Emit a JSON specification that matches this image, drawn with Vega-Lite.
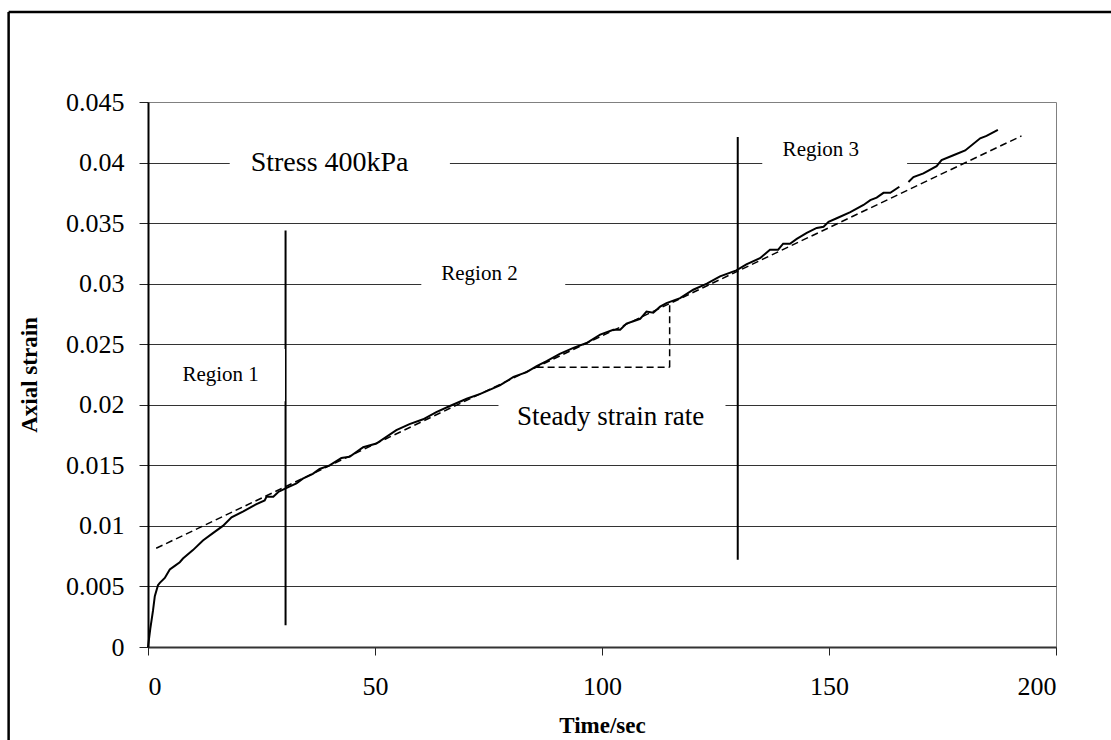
{
  "$schema": "https://vega.github.io/schema/vega-lite/v6.json",
  "autosize": {"type": "none"},
  "width": 908,
  "height": 545,
  "padding": {"left": 148, "top": 102, "right": 55, "bottom": 93},
  "background": "white",
  "config": {
    "view": {"stroke": "#808080", "strokeWidth": 1},
    "font": "'Liberation Serif', 'Times New Roman', serif",
    "axis": {
      "labelFont": "'Liberation Serif', 'Times New Roman', serif",
      "labelFontSize": 26,
      "labelColor": "black",
      "titleFont": "'Liberation Serif', 'Times New Roman', serif",
      "titleFontSize": 23,
      "titleFontWeight": "bold",
      "titleColor": "black",
      "tickColor": "#222",
      "domainColor": "#222"
    }
  },
  "datasets": {
    "strain": [
      {"t": 0, "e": 0, "seg": "a"},
      {"t": 0.5, "e": 0.0015, "seg": "a"},
      {"t": 1.1, "e": 0.0030, "seg": "a"},
      {"t": 1.5, "e": 0.0042, "seg": "a"},
      {"t": 2.2, "e": 0.0051, "seg": "a"},
      {"t": 2.6, "e": 0.0053, "seg": "a"},
      {"t": 3.7, "e": 0.0057, "seg": "a"},
      {"t": 4.8, "e": 0.0064, "seg": "a"},
      {"t": 5.9, "e": 0.0067, "seg": "a"},
      {"t": 7.0, "e": 0.0070, "seg": "a"},
      {"t": 7.7, "e": 0.0073, "seg": "a"},
      {"t": 9.9, "e": 0.0080, "seg": "a"},
      {"t": 12.1, "e": 0.0088, "seg": "a"},
      {"t": 14.3, "e": 0.0094, "seg": "a"},
      {"t": 16.5, "e": 0.0100, "seg": "a"},
      {"t": 18.4, "e": 0.0107, "seg": "a"},
      {"t": 21.0, "e": 0.0112, "seg": "a"},
      {"t": 23.9, "e": 0.0118, "seg": "a"},
      {"t": 25.7, "e": 0.0121, "seg": "a"},
      {"t": 26.1, "e": 0.0124, "seg": "a"},
      {"t": 27.6, "e": 0.0124, "seg": "a"},
      {"t": 28.7, "e": 0.0128, "seg": "a"},
      {"t": 30.3, "e": 0.0131, "seg": "a"},
      {"t": 32.7, "e": 0.0135, "seg": "a"},
      {"t": 34.1, "e": 0.0139, "seg": "a"},
      {"t": 36.3, "e": 0.0143, "seg": "a"},
      {"t": 37.8, "e": 0.0147, "seg": "a"},
      {"t": 40.0, "e": 0.0150, "seg": "a"},
      {"t": 42.6, "e": 0.0156, "seg": "a"},
      {"t": 44.4, "e": 0.0157, "seg": "a"},
      {"t": 47.4, "e": 0.0165, "seg": "a"},
      {"t": 50.3, "e": 0.0168, "seg": "a"},
      {"t": 54.7, "e": 0.0179, "seg": "a"},
      {"t": 57.6, "e": 0.0184, "seg": "a"},
      {"t": 60.6, "e": 0.0188, "seg": "a"},
      {"t": 63.5, "e": 0.0194, "seg": "a"},
      {"t": 66.5, "e": 0.0199, "seg": "a"},
      {"t": 70.2, "e": 0.0205, "seg": "a"},
      {"t": 73.2, "e": 0.0209, "seg": "a"},
      {"t": 77.5, "e": 0.0216, "seg": "a"},
      {"t": 80.5, "e": 0.0223, "seg": "a"},
      {"t": 83.4, "e": 0.0227, "seg": "a"},
      {"t": 85.6, "e": 0.0232, "seg": "a"},
      {"t": 87.8, "e": 0.0236, "seg": "a"},
      {"t": 90.7, "e": 0.0242, "seg": "a"},
      {"t": 93.7, "e": 0.0247, "seg": "a"},
      {"t": 96.6, "e": 0.0251, "seg": "a"},
      {"t": 99.6, "e": 0.0258, "seg": "a"},
      {"t": 102.5, "e": 0.0262, "seg": "a"},
      {"t": 104.0, "e": 0.0262, "seg": "a"},
      {"t": 105.4, "e": 0.0267, "seg": "a"},
      {"t": 106.9, "e": 0.0269, "seg": "a"},
      {"t": 108.4, "e": 0.0271, "seg": "a"},
      {"t": 109.8, "e": 0.0277, "seg": "a"},
      {"t": 111.3, "e": 0.0276, "seg": "a"},
      {"t": 112.8, "e": 0.0281, "seg": "a"},
      {"t": 114.2, "e": 0.0284, "seg": "a"},
      {"t": 117.2, "e": 0.0288, "seg": "a"},
      {"t": 120.1, "e": 0.0295, "seg": "a"},
      {"t": 123.1, "e": 0.0300, "seg": "a"},
      {"t": 126.0, "e": 0.0306, "seg": "a"},
      {"t": 129.6, "e": 0.0311, "seg": "a"},
      {"t": 131.8, "e": 0.0316, "seg": "a"},
      {"t": 134.8, "e": 0.0321, "seg": "a"},
      {"t": 137.0, "e": 0.0328, "seg": "a"},
      {"t": 138.8, "e": 0.0328, "seg": "a"},
      {"t": 139.9, "e": 0.0333, "seg": "a"},
      {"t": 141.4, "e": 0.0333, "seg": "a"},
      {"t": 142.9, "e": 0.0337, "seg": "a"},
      {"t": 145.1, "e": 0.0342, "seg": "a"},
      {"t": 147.3, "e": 0.0346, "seg": "a"},
      {"t": 148.8, "e": 0.0347, "seg": "a"},
      {"t": 149.9, "e": 0.0351, "seg": "a"},
      {"t": 151.7, "e": 0.0354, "seg": "a"},
      {"t": 154.7, "e": 0.0359, "seg": "a"},
      {"t": 157.6, "e": 0.0365, "seg": "a"},
      {"t": 159.1, "e": 0.0369, "seg": "a"},
      {"t": 160.5, "e": 0.0371, "seg": "a"},
      {"t": 162.0, "e": 0.0375, "seg": "a"},
      {"t": 163.5, "e": 0.0375, "seg": "a"},
      {"t": 165.5, "e": 0.0380, "seg": "a"},
      {"t": 167.5, "e": 0.0384, "seg": "b"},
      {"t": 168.6, "e": 0.0388, "seg": "b"},
      {"t": 170.8, "e": 0.0391, "seg": "b"},
      {"t": 173.7, "e": 0.0397, "seg": "b"},
      {"t": 174.8, "e": 0.0402, "seg": "b"},
      {"t": 177.4, "e": 0.0406, "seg": "b"},
      {"t": 180.0, "e": 0.0410, "seg": "b"},
      {"t": 183.3, "e": 0.0420, "seg": "b"},
      {"t": 184.7, "e": 0.0422, "seg": "b"},
      {"t": 187.2, "e": 0.0427, "seg": "b"}
    ],
    "trend": [
      {"t": 1.8, "e": 0.00815},
      {"t": 192.4, "e": 0.0422}
    ],
    "dividers": [
      {"t": 30.3, "e1": 0.0018, "e2": 0.0344},
      {"t": 129.9, "e1": 0.0072, "e2": 0.0421}
    ],
    "boxes": [
      {"t1": 18.0, "t2": 66.5, "e1": 0.0381, "e2": 0.0419},
      {"t1": 60.2, "t2": 91.9, "e1": 0.0295, "e2": 0.0321},
      {"t1": 1.0, "t2": 30.17, "e1": 0.0203, "e2": 0.0246},
      {"t1": 77.2, "t2": 127.2, "e1": 0.0171, "e2": 0.0208},
      {"t1": 135.3, "t2": 167.2, "e1": 0.0390, "e2": 0.0423}
    ],
    "labels": [
      {"t": 40.0, "e": 0.0400, "text": "Stress 400kPa", "size": 28},
      {"t": 73.0, "e": 0.0308, "text": "Region 2", "size": 21},
      {"t": 16.0, "e": 0.0225, "text": "Region 1", "size": 21},
      {"t": 101.9, "e": 0.0190, "text": "Steady strain rate", "size": 27},
      {"t": 148.2, "e": 0.0410, "text": "Region 3", "size": 21}
    ]
  },
  "layer": [
    {
      "data": {"values": [{"t": -30.7, "e": 0.05243, "e0": -0.02}]},
      "mark": {"type": "rule", "color": "black", "strokeWidth": 2.5},
      "encoding": {
        "x": {"field": "t", "type": "quantitative"},
        "y": {"field": "e0", "type": "quantitative"},
        "y2": {"field": "e"}
      }
    },
    {
      "data": {"values": [{"t": -30.7, "t2": 260, "e": 0.05243}]},
      "mark": {"type": "rule", "color": "black", "strokeWidth": 2.5},
      "encoding": {
        "x": {"field": "t", "type": "quantitative"},
        "x2": {"field": "t2"},
        "y": {"field": "e", "type": "quantitative"}
      }
    },
    {
      "data": {"name": "dividers"},
      "mark": {"type": "rule", "color": "black", "strokeWidth": 2},
      "encoding": {
        "x": {"field": "t", "type": "quantitative"},
        "y": {"field": "e1", "type": "quantitative"},
        "y2": {"field": "e2"}
      }
    },
    {
      "data": {"name": "boxes"},
      "mark": {"type": "rect", "fill": "white", "stroke": null},
      "encoding": {
        "x": {"field": "t1", "type": "quantitative"},
        "x2": {"field": "t2"},
        "y": {"field": "e1", "type": "quantitative"},
        "y2": {"field": "e2"}
      }
    },
    {
      "data": {"values": [{"t1": 85.6, "t2": 114.9, "e1": 0.0231, "e2": 0.0284}]},
      "mark": {"type": "rule", "color": "black", "strokeWidth": 1.5, "strokeDash": [7, 4]},
      "encoding": {
        "x": {"field": "t1", "type": "quantitative"},
        "x2": {"field": "t2"},
        "y": {"field": "e1", "type": "quantitative"}
      }
    },
    {
      "data": {"values": [{"t": 114.9, "e1": 0.0231, "e2": 0.0284}]},
      "mark": {"type": "rule", "color": "black", "strokeWidth": 1.5, "strokeDash": [7, 4]},
      "encoding": {
        "x": {"field": "t", "type": "quantitative"},
        "y": {"field": "e1", "type": "quantitative"},
        "y2": {"field": "e2"}
      }
    },
    {
      "data": {"name": "trend"},
      "mark": {"type": "line", "color": "black", "strokeWidth": 1.5, "strokeDash": [7, 4]},
      "encoding": {
        "x": {"field": "t", "type": "quantitative"},
        "y": {"field": "e", "type": "quantitative"}
      }
    },
    {
      "data": {"name": "strain"},
      "mark": {"type": "line", "color": "black", "strokeWidth": 2},
      "encoding": {
        "x": {
          "field": "t",
          "type": "quantitative",
          "scale": {"domain": [0, 200], "nice": false, "zero": false},
          "axis": {
            "title": "Time/sec",
            "values": [0, 50, 100, 150, 200],
            "grid": false,
            "tickSize": 8,
            "labelPadding": 18,
            "titlePadding": 15,
            "domainWidth": 2,
            "domainColor": "#333"
          }
        },
        "y": {
          "field": "e",
          "type": "quantitative",
          "scale": {"domain": [0, 0.045], "nice": false, "zero": false},
          "axis": {
            "title": "Axial strain",
            "values": [0, 0.005, 0.01, 0.015, 0.02, 0.025, 0.03, 0.035, 0.04, 0.045],
            "format": "~g",
            "grid": true,
            "gridColor": "#333",
            "gridWidth": 1,
            "gridOpacity": {"condition": {"test": "datum.value > 0.0449", "value": 0}, "value": 1},
            "tickSize": 9,
            "labelPadding": 15,
            "titlePadding": 24,
            "domainWidth": 2,
            "domainColor": "black"
          }
        },
        "detail": {"field": "seg"}
      }
    },
    {
      "data": {"name": "labels"},
      "mark": {"type": "text", "font": "'Liberation Serif', 'Times New Roman', serif", "color": "black", "align": "center", "baseline": "middle"},
      "encoding": {
        "x": {"field": "t", "type": "quantitative"},
        "y": {"field": "e", "type": "quantitative"},
        "text": {"field": "text"},
        "size": {"field": "size", "type": "quantitative", "scale": null}
      }
    }
  ]
}
